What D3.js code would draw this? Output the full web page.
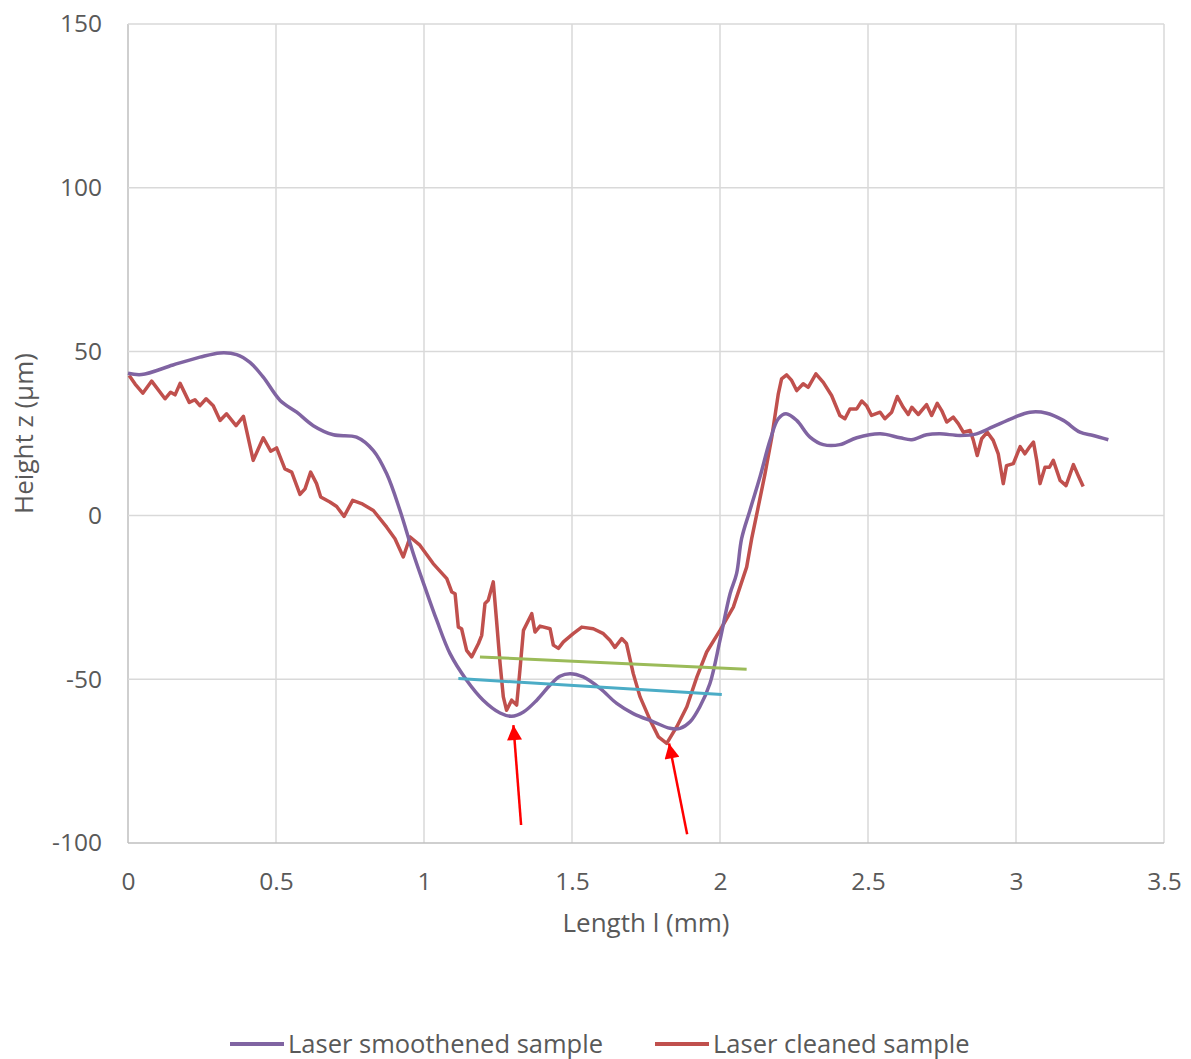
<!DOCTYPE html>
<html>
<head>
<meta charset="utf-8">
<script src="https://cdn.jsdelivr.net/npm/d3@7"></script>
<style>
  body { margin: 0; background: #fff; }
  text { font-family: "Open Sans", sans-serif; fill: #595959; }
</style>
</head>
<body>
<svg></svg>
<script>
// tick values
let xTicks = [0, 0.5, 1, 1.5, 2, 2.5, 3, 3.5]
let yTicks = [-100, -50, 0, 50, 100, 150]

// laser smoothened sample (purple)
let smoothL = [0,0.046,0.152,0.243,0.311,0.367,0.412,0.457,0.514,0.570,0.626,0.694,0.772,0.829,0.874,0.919,0.964,1.003,1.043,1.088,1.144,1.200,1.257,1.296,1.336,1.381,1.426,1.459,1.493,1.538,1.595,1.651,1.707,1.775,1.831,1.865,1.899,1.932,1.966,2.0,2.034,2.056,2.073,2.101,2.135,2.169,2.197,2.223,2.259,2.304,2.349,2.405,2.462,2.541,2.608,2.648,2.698,2.743,2.811,2.867,2.923,2.991,3.047,3.104,3.160,3.216,3.261,3.312]
let smoothZ = [43.4,43.0,45.9,48.3,49.6,49.1,46.7,42.2,35.1,31.5,27.4,24.6,23.9,19.8,12.7,1.5,-11.7,-21.9,-32.0,-42.2,-50.3,-56.4,-60.3,-61.3,-60.0,-56.4,-51.8,-49.1,-48.3,-49.3,-52.8,-57.4,-60.5,-63.0,-65.0,-65.0,-63.0,-58.4,-51.3,-38.1,-23.9,-17.8,-7.1,1.5,11.7,22.9,29.5,31.0,29.0,23.9,21.6,21.6,23.7,24.9,23.7,23.1,24.6,24.9,24.4,24.9,27.1,29.8,31.5,31.2,29.0,25.4,24.4,23.1]

// laser cleaned sample (red)
let cleanL = [0.004,0.024,0.05,0.08,0.125,0.144,0.159,0.176,0.207,0.226,0.243,0.264,0.288,0.311,0.333,0.365,0.390,0.423,0.457,0.482,0.502,0.530,0.553,0.581,0.598,0.617,0.637,0.651,0.682,0.705,0.730,0.759,0.789,0.829,0.874,0.902,0.930,0.953,0.986,1.031,1.077,1.094,1.105,1.116,1.127,1.144,1.161,1.184,1.195,1.206,1.217,1.234,1.245,1.257,1.268,1.279,1.296,1.313,1.324,1.336,1.364,1.375,1.392,1.426,1.437,1.454,1.471,1.504,1.533,1.572,1.606,1.628,1.645,1.668,1.684,1.707,1.730,1.764,1.792,1.820,1.854,1.888,1.922,1.955,2.0,2.045,2.090,2.107,2.129,2.152,2.175,2.197,2.208,2.225,2.242,2.259,2.281,2.298,2.324,2.349,2.377,2.405,2.422,2.439,2.462,2.479,2.495,2.512,2.541,2.557,2.580,2.599,2.619,2.636,2.648,2.670,2.698,2.715,2.734,2.749,2.766,2.788,2.805,2.822,2.845,2.856,2.869,2.884,2.903,2.923,2.940,2.957,2.968,2.991,3.014,3.030,3.047,3.059,3.070,3.081,3.098,3.113,3.126,3.149,3.169,3.194,3.210,3.227]
let cleanZ = [42.7,40.1,37.3,41.0,35.6,37.6,36.8,40.3,34.5,35.3,33.5,35.6,33.5,29.0,31.0,27.4,30.2,16.8,23.7,19.6,20.6,14.2,13.2,6.4,8.1,13.2,9.7,5.6,4.1,2.7,-0.3,4.6,3.6,1.5,-3.6,-7.1,-12.7,-6.6,-9.1,-14.7,-19.3,-23.4,-23.9,-34.1,-34.6,-41.2,-43.2,-39.1,-36.6,-26.9,-25.9,-20.3,-32.0,-45.2,-55.4,-59.5,-56.4,-57.9,-47.3,-35.1,-30.0,-35.6,-33.8,-34.6,-39.6,-40.6,-38.6,-36.1,-34.1,-34.6,-36.1,-38.1,-40.3,-37.6,-39.1,-48.3,-55.4,-62.5,-67.6,-69.6,-64.5,-58.4,-49.3,-41.7,-35.1,-28.0,-15.8,-7.1,2.5,12.7,23.9,37.1,41.7,42.9,41.2,38.1,40.2,39.1,43.2,40.6,36.6,30.5,29.5,32.5,32.5,34.9,33.5,30.5,31.5,29.5,31.5,36.3,33.0,30.8,33.0,30.8,33.8,30.5,34.2,32.0,28.5,30.0,28.0,25.4,25.9,22.9,18.3,23.4,25.4,22.9,18.8,9.7,15.2,15.8,21.0,18.8,21.0,22.4,16.8,9.7,14.7,14.7,16.8,10.7,9.1,15.5,12.2,8.8]

// reference lines drawn over the valley
let greenL = [1.189, 2.090]
let greenZ = [-43.2, -47.0]
let blueL = [1.116, 2.006]
let blueZ = [-49.8, -54.7]

// red arrows: tail -> tip
let arrowTailL = [1.328, 1.889]
let arrowTailZ = [-94.5, -97.3]
let arrowTipL = [1.302, 1.828]
let arrowTipZ = [-64.0, -69.6]

let legendNames = ['Laser smoothened sample', 'Laser cleaned sample']
let legendColors = ['#8064A2', '#C0504D']

let width = 1191
let height = 1059
let plotLeft = 128, plotRight = 1164, plotTop = 24, plotBottom = 843

let svg = d3.select('svg')
svg.attr('width', width).attr('height', height)

let xScale = d3.scaleLinear().domain([0, 3.5]).range([plotLeft, plotRight])
let yScale = d3.scaleLinear().domain([-100, 150]).range([plotBottom, plotTop])

// gridlines
svg.append('g')
    .selectAll('line')
    .data(xTicks)
    .enter()
    .append('line')
    .attr('x1', d => xScale(d)).attr('x2', d => xScale(d))
    .attr('y1', plotTop).attr('y2', plotBottom)
    .attr('stroke', d => d === 0 ? '#BFBFBF' : '#D9D9D9')
    .attr('stroke-width', 1.5)

svg.append('g')
    .selectAll('line')
    .data(yTicks)
    .enter()
    .append('line')
    .attr('x1', plotLeft).attr('x2', plotRight)
    .attr('y1', d => yScale(d)).attr('y2', d => yScale(d))
    .attr('stroke', d => d === -100 ? '#BFBFBF' : '#D9D9D9')
    .attr('stroke-width', 1.5)

// axes (labels only)
let xAxis = d3.axisBottom(xScale).tickValues(xTicks).tickSize(0).tickPadding(30)
    .tickFormat(d => String(d))
let yAxis = d3.axisLeft(yScale).tickValues(yTicks).tickSize(0).tickPadding(26)
    .tickFormat(d => String(d))

svg.append('g')
    .attr('id', 'x-axis')
    .attr('transform', 'translate(0,' + plotBottom + ')')
    .call(xAxis)
svg.append('g')
    .attr('id', 'y-axis')
    .attr('transform', 'translate(' + plotLeft + ',0)')
    .call(yAxis)

svg.selectAll('#x-axis path, #y-axis path').remove()
svg.selectAll('#x-axis text, #y-axis text')
    .attr('font-size', 24.5)
    .attr('fill', '#595959')
    .style('font-family', '"Open Sans", sans-serif')

// series
let toPoints = (xs, ys) => xs.map((v, i) => [v, ys[i]])

let smoothLine = d3.line()
    .x(d => xScale(d[0]))
    .y(d => yScale(d[1]))
    .curve(d3.curveCatmullRom)

let plainLine = d3.line()
    .x(d => xScale(d[0]))
    .y(d => yScale(d[1]))

svg.append('path')
    .datum(toPoints(cleanL, cleanZ))
    .attr('d', plainLine)
    .attr('fill', 'none')
    .attr('stroke', '#C0504D')
    .attr('stroke-width', 3.5)
    .attr('stroke-linejoin', 'round')

svg.append('path')
    .datum(toPoints(smoothL, smoothZ))
    .attr('d', smoothLine)
    .attr('fill', 'none')
    .attr('stroke', '#8064A2')
    .attr('stroke-width', 3.5)
    .attr('stroke-linejoin', 'round')

svg.append('path')
    .datum(toPoints(greenL, greenZ))
    .attr('d', plainLine)
    .attr('stroke', '#9BBB59')
    .attr('stroke-width', 3)

svg.append('path')
    .datum(toPoints(blueL, blueZ))
    .attr('d', plainLine)
    .attr('stroke', '#4BACC6')
    .attr('stroke-width', 3)

// arrows
svg.append('defs').append('marker')
    .attr('id', 'head')
    .attr('viewBox', '0 0 10 10')
    .attr('refX', 10).attr('refY', 5)
    .attr('markerWidth', 20).attr('markerHeight', 15)
    .attr('markerUnits', 'userSpaceOnUse')
    .attr('orient', 'auto')
    .append('path')
    .attr('d', 'M0,0 L10,5 L0,10 Z')
    .attr('fill', '#FF0000')

svg.append('g')
    .selectAll('line')
    .data(arrowTailL)
    .enter()
    .append('line')
    .attr('x1', (d, i) => xScale(d))
    .attr('y1', (d, i) => yScale(arrowTailZ[i]))
    .attr('x2', (d, i) => xScale(arrowTipL[i]))
    .attr('y2', (d, i) => yScale(arrowTipZ[i]))
    .attr('stroke', '#FF0000')
    .attr('stroke-width', 2.5)
    .attr('marker-end', 'url(#head)')

// axis titles
svg.append('text')
    .attr('x', (plotLeft + plotRight) / 2)
    .attr('y', 932)
    .attr('text-anchor', 'middle')
    .attr('font-size', 26)
    .text('Length l (mm)')

svg.append('text')
    .attr('transform', 'translate(33,' + ((plotTop + plotBottom) / 2) + ') rotate(-90)')
    .attr('text-anchor', 'middle')
    .attr('font-size', 26)
    .text('Height z (µm)')

// legend
let legendX = [230, 655]
let legend = svg.append('g')
legendNames.forEach((name, i) => {
    legend.append('line')
        .attr('x1', legendX[i]).attr('x2', legendX[i] + 54)
        .attr('y1', 1044).attr('y2', 1044)
        .attr('stroke', legendColors[i])
        .attr('stroke-width', 4)
    legend.append('text')
        .attr('x', legendX[i] + 58)
        .attr('y', 1053)
        .attr('font-size', 25.5)
        .text(name)
})
</script>
</body>
</html>
